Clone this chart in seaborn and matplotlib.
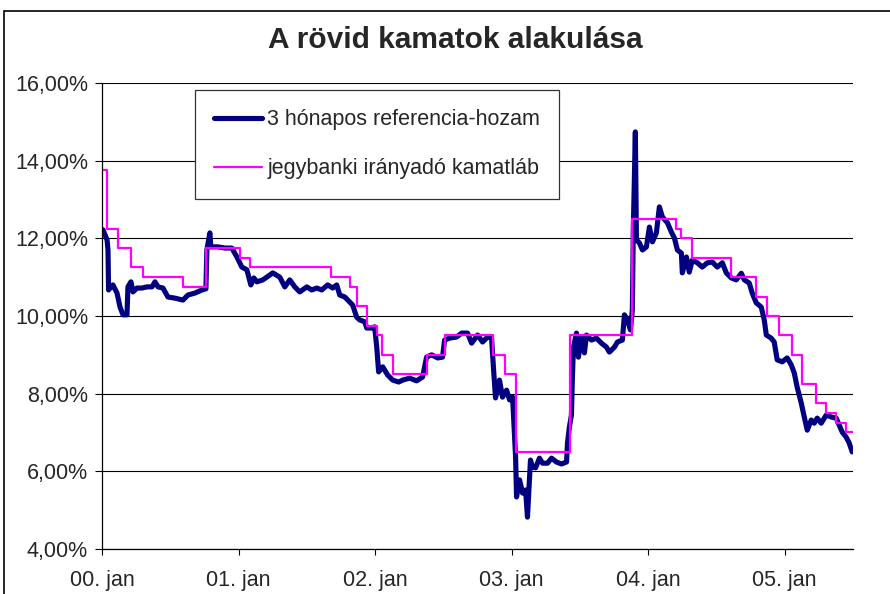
import matplotlib
matplotlib.use('Agg')
import matplotlib.pyplot as plt
from matplotlib.patches import Rectangle
from matplotlib.ticker import FuncFormatter
import seaborn as sns
import pandas as pd

# time axis in years since 2000-01-01
yield_t = [0.000, 0.007, 0.037, 0.044, 0.048, 0.059, 0.080, 0.110, 0.132, 0.154,
           0.183, 0.190, 0.212, 0.227, 0.256, 0.293, 0.329, 0.366, 0.388, 0.410,
           0.446, 0.483, 0.534, 0.593, 0.629, 0.680, 0.732, 0.761, 0.768, 0.790,
           0.797, 0.849, 0.900, 0.951, 0.988, 1.024, 1.061, 1.090, 1.112, 1.134,
           1.178, 1.251, 1.302, 1.339, 1.375, 1.412, 1.448, 1.500, 1.536, 1.573,
           1.609, 1.653, 1.690, 1.719, 1.741, 1.778, 1.800, 1.836, 1.865, 1.887,
           1.924, 1.939, 1.975, 1.997, 2.012, 2.026, 2.056, 2.092, 2.129, 2.173,
           2.202, 2.253, 2.304, 2.348, 2.377, 2.414, 2.458, 2.494, 2.509, 2.546,
           2.597, 2.634, 2.677, 2.707, 2.751, 2.787, 2.824, 2.853, 2.868, 2.882,
           2.911, 2.933, 2.963, 2.985, 3.007, 3.029, 3.036, 3.058, 3.080, 3.102,
           3.116, 3.138, 3.153, 3.175, 3.204, 3.226, 3.263, 3.292, 3.328, 3.365,
           3.402, 3.409, 3.423, 3.438, 3.445, 3.453, 3.475, 3.489, 3.511, 3.533,
           3.548, 3.584, 3.621, 3.658, 3.694, 3.716, 3.753, 3.775, 3.811, 3.826,
           3.848, 3.870, 3.884, 3.891, 3.906, 3.914, 3.936, 3.958, 3.987, 4.009,
           4.031, 4.060, 4.082, 4.104, 4.141, 4.170, 4.192, 4.214, 4.243, 4.250,
           4.280, 4.301, 4.323, 4.360, 4.396, 4.433, 4.470, 4.506, 4.543, 4.572,
           4.609, 4.645, 4.682, 4.704, 4.740, 4.762, 4.791, 4.828, 4.850, 4.865,
           4.901, 4.923, 4.945, 4.982, 5.018, 5.048, 5.070, 5.091, 5.121, 5.143,
           5.165, 5.194, 5.216, 5.238, 5.267, 5.304, 5.340, 5.377, 5.399, 5.421,
           5.450, 5.472, 5.494]
yield_v = [12.20, 12.22, 11.96, 11.70, 10.67, 10.72, 10.80, 10.59, 10.23, 10.03,
           10.03, 10.75, 10.88, 10.62, 10.72, 10.72, 10.75, 10.75, 10.88, 10.75,
           10.72, 10.49, 10.46, 10.41, 10.54, 10.59, 10.67, 10.70, 11.70, 12.14,
           11.78, 11.78, 11.75, 11.75, 11.52, 11.26, 11.19, 10.80, 10.98, 10.88,
           10.93, 11.11, 11.00, 10.75, 10.93, 10.75, 10.62, 10.75, 10.67, 10.72,
           10.67, 10.80, 10.72, 10.80, 10.54, 10.49, 10.41, 10.28, 9.97, 9.90,
           9.85, 9.69, 9.69, 9.72, 9.20, 8.56, 8.69, 8.48, 8.35, 8.30,
           8.35, 8.40, 8.33, 8.43, 8.94, 9.00, 8.92, 8.94, 9.38, 9.43,
           9.46, 9.56, 9.56, 9.30, 9.51, 9.33, 9.46, 9.43, 8.61, 7.89,
           8.35, 7.91, 8.09, 7.84, 7.91, 6.37, 5.34, 5.78, 5.44, 5.52,
           4.82, 6.29, 6.11, 6.09, 6.34, 6.21, 6.21, 6.34, 6.24, 6.19,
           6.24, 6.73, 7.14, 7.45, 8.43, 9.20, 9.56, 8.94, 9.46, 9.05,
           9.51, 9.38, 9.43, 9.30, 9.20, 9.07, 9.20, 9.33, 9.38, 10.03,
           9.90, 9.64, 10.16, 12.22, 14.74, 11.96, 11.88, 11.70, 11.78, 12.29,
           11.91, 12.14, 12.81, 12.55, 12.40, 12.16, 12.01, 11.70, 11.62, 11.11,
           11.52, 11.13, 11.44, 11.37, 11.26, 11.37, 11.39, 11.26, 11.37, 11.11,
           10.98, 10.93, 11.10, 10.93, 10.85, 10.59, 10.34, 10.23, 9.90, 9.51,
           9.43, 9.33, 8.87, 8.82, 8.92, 8.74, 8.53, 8.17, 7.76, 7.40,
           7.06, 7.32, 7.24, 7.37, 7.24, 7.45, 7.40, 7.37, 7.19, 7.01,
           6.88, 6.73, 6.50]

rate_t = [0.000, 0.037, 0.117, 0.212, 0.300, 0.593, 0.761, 1.009, 1.083, 1.675,
          1.814, 1.865, 1.938, 2.012, 2.048, 2.129, 2.377, 2.509, 2.867, 2.948,
          3.029, 3.431, 3.884, 4.206, 4.243, 4.323, 4.609, 4.791, 4.872, 4.960,
          5.055, 5.128, 5.230, 5.304, 5.377, 5.450, 5.501]
rate_v = [13.75, 12.25, 11.75, 11.25, 11.00, 10.75, 11.75, 11.50, 11.25, 11.00,
          10.75, 10.25, 9.75, 9.50, 9.00, 8.50, 9.00, 9.50, 9.00, 8.50,
          6.50, 9.50, 12.50, 12.25, 12.00, 11.50, 11.00, 10.50, 10.00, 9.50,
          9.00, 8.25, 7.75, 7.50, 7.25, 7.00, 7.00]

year_ticks = [0, 1, 2, 3, 4, 5]
year_labels = ['00. jan', '01. jan', '02. jan', '03. jan', '04. jan', '05. jan']

title = 'A rövid kamatok alakulása'
yield_label = '3 hónapos referencia-hozam'
rate_label = 'jegybanki irányadó kamatláb'

sns.set_style('white')
plt.rcParams['font.family'] = ['Liberation Sans', 'DejaVu Sans']

df_yield = pd.DataFrame({'t': yield_t, 'v': yield_v})
df_rate = pd.DataFrame({'t': rate_t, 'v': rate_v})

fig = plt.figure(figsize=(8.9, 5.94), dpi=100)
ax = fig.add_axes([102 / 890, 1 - 549 / 594, 751 / 890, 466 / 594])

sns.lineplot(data=df_yield, x='t', y='v', color='#000080', linewidth=3.7,
             estimator=None, sort=False, ax=ax, label=yield_label)
sns.lineplot(data=df_rate, x='t', y='v', color='#FF00FF', linewidth=1.6,
             estimator=None, sort=False, drawstyle='steps-post', ax=ax, label=rate_label)

ax.set_xlim(0, 5.5)
ax.set_ylim(4, 16)
ax.set_xlabel('')
ax.set_ylabel('')
ax.set_yticks([4, 6, 8, 10, 12, 14, 16])
ax.yaxis.set_major_formatter(FuncFormatter(lambda v, _: f'{v:.2f}%'.replace('.', ',')))
ax.set_xticks(year_ticks)
ax.set_xticklabels(year_labels)

ax.yaxis.grid(True, color='black', linewidth=0.8)
ax.xaxis.grid(False)
ax.set_axisbelow(True)
for s in ['top', 'right']:
    ax.spines[s].set_visible(False)
for s in ['left', 'bottom']:
    ax.spines[s].set_color('black')
    ax.spines[s].set_linewidth(0.9)

ax.tick_params(axis='y', direction='out', length=5, width=0.8, color='black',
               labelsize=15.5, pad=5, left=True)
ax.tick_params(axis='x', direction='out', length=4, width=0.8, color='black',
               labelsize=15.5, pad=11, bottom=True)

leg = ax.legend(loc='upper left', bbox_to_anchor=(0.124, 0.985), frameon=True,
                fancybox=False, edgecolor='#333333', framealpha=1, fontsize=15.5,
                handlelength=2.2, handletextpad=0.25, labelspacing=1.3,
                borderpad=0.9, borderaxespad=0)
leg.get_frame().set_linewidth(0.9)

fig.text(455 / 890, 1 - 40 / 594, title, ha='center', va='center',
         fontsize=21.5, fontweight='bold')

fig.patches.append(Rectangle((4 / 890, -0.05), 1.1, 1 - 11 / 594 + 0.05,
                             transform=fig.transFigure, fill=False,
                             edgecolor='black', linewidth=1.2))

fig.savefig('out.png', dpi=100)
plt.close(fig)
